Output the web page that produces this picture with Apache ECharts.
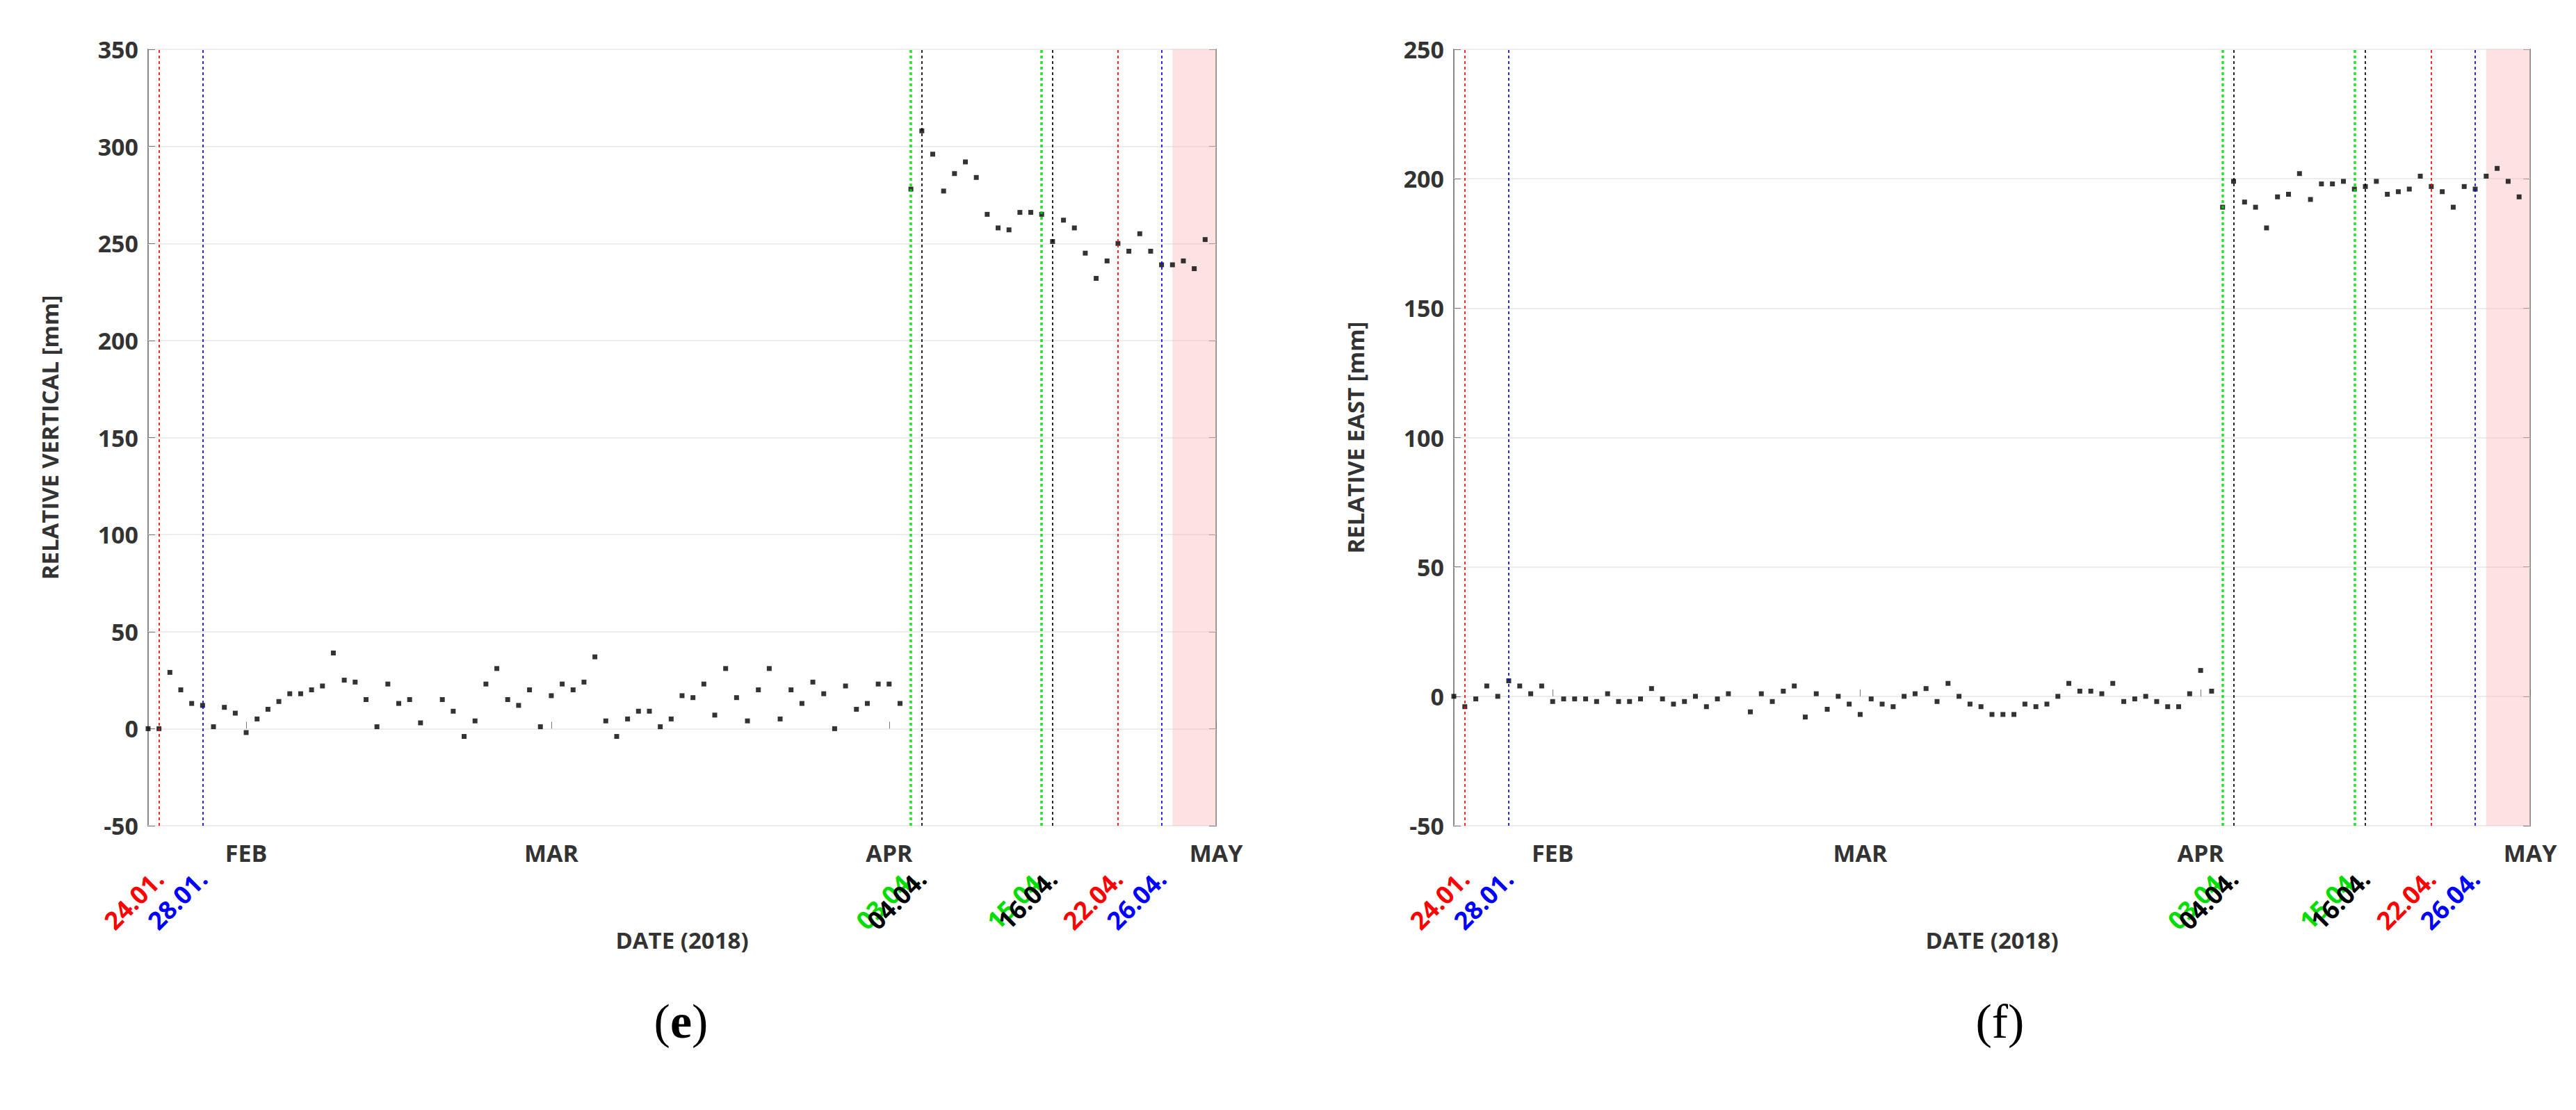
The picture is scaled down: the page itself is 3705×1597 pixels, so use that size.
<!DOCTYPE html>
<html>
<head>
<meta charset="utf-8">
<script src="https://cdn.jsdelivr.net/npm/echarts@6/dist/echarts.min.js"></script>
<style>
  html, body { margin: 0; padding: 0; background: #fff; }
  #chart { width: 3705px; height: 1597px; }
</style>
</head>
<body>
<div id="chart"></div>
<script>
  // 日期: 2018-01-23 起每日一个点
  var startDay = Date.UTC(2018, 0, 23);
  var dayMs = 86400000;

  // (e) 相对垂直位移 [mm]
  var verticalValues = [
    0, 0, 29, 20, 13, 12, 1, 11, 8,
    -2, 5, 10, 14, 18, 18, 20, 22, 39, 25, 24, 15, 1, 23, 13, 15, 3, null, 15, 9, -4, 4, 23, 31, 15, 12, 20, 1,
    17, 23, 20, 24, 37, 4, -4, 5, 9, 9, 1, 5, 17, 16, 23, 7, 31, 16, 4, 20, 31, 5, 20, 13, 24, 18, 0, 22, 10, 13, 23,
    23, 13, 278, 308, 296, 277, 286, 292, 284, 265, 258, 257, 266, 266, 265, 251, 262, 258, 245, 232, 241, 250, 246, 255, 246, 239, 239, 241, 237, 252
  ];
  // (f) 相对东向位移 [mm]
  var eastValues = [
    0, -4, -1, 4, 0, 6, 4, 1, 4,
    -2, -1, -1, -1, -2, 1, -2, -2, -1, 3, -1, -3, -2, 0, -4, -1, 1, null, -6, 1, -2, 2, 4, -8, 1, -5, 0, -3,
    -7, -1, -3, -4, 0, 1, 3, -2, 5, 0, -3, -4, -7, -7, -7, -3, -4, -3, 0, 5, 2, 2, 1, 5, -2, -1, 0, -2, -4, -4, 1,
    10, 2, 189, 199, 191, 189, 181, 193, 194, 202, 192, 198, 198, 199, 196, 197, 199, 194, 195, 196, 201, 197, 195, 189, 197, 196, 201, 204, 199, 193
  ];
  // 事件日期 (竖线)
  var eventLabels = ['24.01.', '28.01.', '03.04.', '04.04.', '15.04.', '16.04.', '22.04.', '26.04.'];
  var eventDates = [[0, 24], [0, 28], [3, 3], [3, 4], [3, 15], [3, 16], [3, 22], [3, 26]];
  var eventColors = ['red', 'blue', 'green', 'black', 'green', 'black', 'red', 'blue'];
  var monthNames = ['JAN', 'FEB', 'MAR', 'APR', 'MAY'];
  var yTicksE = [-50, 350, 50];
  var yTicksF = [-50, 250, 50];

  var colorMap = { red: '#ff0000', blue: '#0000ff', green: '#00dd00', black: '#000000' };
  var endDay = Date.UTC(2018, 4, 1);
  var dates = [];
  for (var i = 0; i < verticalValues.length; i++) dates.push(startDay + i * dayMs);
  var dayCats = [];
  for (var t = startDay; t <= endDay; t += dayMs) dayCats.push(t);
  function pairs(vals) {
    return vals.map(function (v, i) { return [dates[i], v]; });
  }
  var eventTs = eventDates.map(function (d) { return Date.UTC(2018, d[0], d[1]); });

  var font = 'Open Sans';
  var markLine = {
    silent: true,
    symbol: 'none',
    animation: false,
    label: { show: false },
    data: eventTs.map(function (t, i) {
      return {
        xAxis: t,
        lineStyle: { color: colorMap[eventColors[i]], type: [4, 4], width: eventColors[i] === 'green' ? 3.5 : 2, opacity: 0.85 }
      };
    })
  };
  var markArea = {
    silent: true,
    itemStyle: { color: 'rgba(250, 190, 190, 0.45)' },
    data: [[{ xAxis: Date.UTC(2018, 3, 27) }, { xAxis: endDay }]]
  };

  var rich = {};
  Object.keys(colorMap).forEach(function (k) {
    rich[k] = { color: colorMap[k], fontFamily: font, fontSize: 36, fontWeight: 'bold' };
  });

  // 事件日期标签轴 (按日的类目轴, 只显示事件日)
  function eventAxis(idx) {
    return {
      type: 'category', gridIndex: idx, data: dayCats, boundaryGap: false, position: 'bottom',
      axisLine: { show: false }, axisTick: { show: false }, splitLine: { show: false },
      axisLabel: {
        rotate: 45, margin: 70, hideOverlap: false,
        interval: function (i, v) { return eventTs.indexOf(+v) >= 0; },
        formatter: function (v) {
          var k = eventTs.indexOf(+v);
          return k >= 0 ? '{' + eventColors[k] + '|' + eventLabels[k] + '}' : '';
        },
        rich: rich
      }
    };
  }

  function xAxis(idx) {
    return {
      type: 'time',
      gridIndex: idx,
      min: startDay,
      max: endDay,
      splitNumber: 4,
      name: 'DATE (2018)',
      nameLocation: 'middle',
      nameGap: 148,
      nameTextStyle: { fontFamily: font, fontSize: 33, fontWeight: 'bold', color: '#333' },
      axisLine: { show: false },
      axisTick: { inside: true, length: 10, lineStyle: { color: '#777' } },
      minorTick: { show: false },
      splitLine: { show: false },
      axisLabel: {
        fontFamily: font, fontSize: 34, fontWeight: 'bold', color: '#333', margin: 22,
        hideOverlap: false, showMinLabel: false, showMaxLabel: true,
        formatter: function (v) {
          var d = new Date(v);
          return d.getUTCDate() === 1 ? monthNames[d.getUTCMonth()] : '';
        }
      }
    };
  }
  function yAxes(idx, ticks, name) {
    var base = {
      type: 'value', gridIndex: idx, min: ticks[0], max: ticks[1], interval: ticks[2],
      axisLine: { show: false },
      axisTick: { show: true, inside: true, length: 10, lineStyle: { color: '#777' } }
    };
    return [
      Object.assign({}, base, {
        name: name, nameLocation: 'middle', nameGap: 125,
        nameTextStyle: { fontFamily: font, fontSize: 33, fontWeight: 'bold', color: '#333' },
        splitLine: { show: true, lineStyle: { color: '#ececec', width: 2 } },
        axisLabel: { fontFamily: font, fontSize: 34, fontWeight: 'bold', color: '#333', margin: 14 }
      }),
      Object.assign({}, base, { position: 'right', splitLine: { show: false }, axisLabel: { show: false } })
    ];
  }

  var chart = echarts.init(document.getElementById('chart'), null, { renderer: 'svg' });
  var option = {
    backgroundColor: '#ffffff',
    useUTC: true,
    animation: false,
    grid: [
      { left: 213, right: 1956, top: 71, bottom: 409, show: true, borderColor: '#888', borderWidth: 2 },
      { left: 2091, right: 66, top: 71, bottom: 409, show: true, borderColor: '#888', borderWidth: 2 }
    ],
    xAxis: [xAxis(0), xAxis(1), eventAxis(0), eventAxis(1)],
    yAxis: yAxes(0, yTicksE, 'RELATIVE VERTICAL [mm]').concat(yAxes(1, yTicksF, 'RELATIVE EAST [mm]')),
    title: [
      { text: '({b|e})', left: '26.3%', top: '89.5%', textAlign: 'center',
        textStyle: { fontFamily: 'Liberation Serif', fontSize: 70, fontWeight: 'normal', color: '#000',
          rich: { b: { fontFamily: 'Liberation Serif', fontSize: 70, fontWeight: 'bold' } } } },
      { text: '(f)', left: '77.5%', top: '89.5%', textAlign: 'center',
        textStyle: { fontFamily: 'Liberation Serif', fontSize: 70, fontWeight: 'normal', color: '#000' } }
    ],
    series: [
      { type: 'scatter', xAxisIndex: 0, yAxisIndex: 0, data: pairs(verticalValues),
        symbol: 'rect', symbolSize: 7, itemStyle: { color: '#000' }, markLine: markLine, markArea: markArea },
      { type: 'scatter', xAxisIndex: 1, yAxisIndex: 2, data: pairs(eastValues),
        symbol: 'rect', symbolSize: 7, itemStyle: { color: '#000' }, markLine: markLine, markArea: markArea }
    ]
  };
  chart.setOption(option);
</script>
</body>
</html>
